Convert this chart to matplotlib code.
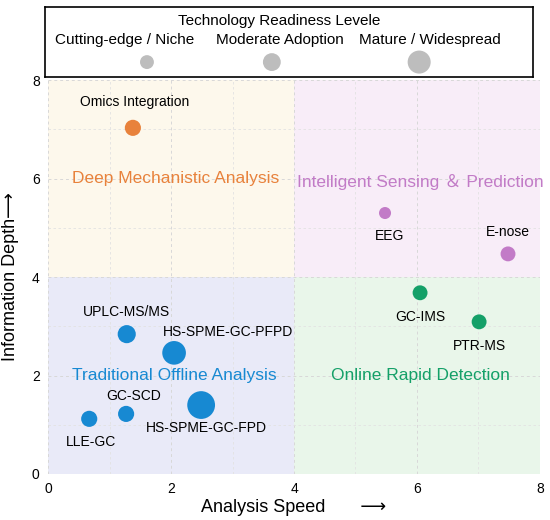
import matplotlib.pyplot as plt
import numpy as np

plt.rcParams['font.family'] = ['Liberation Sans', 'DejaVu Sans', 'Noto Sans CJK SC']

# techniques: speed, depth, size class (0 niche, 1 moderate, 2 mature)
names = ['Omics Integration', 'EEG', 'E-nose', 'GC-IMS', 'PTR-MS',
         'UPLC-MS/MS', 'HS-SPME-GC-PFPD', 'HS-SPME-GC-FPD', 'GC-SCD', 'LLE-GC']
speed = [1.38, 5.48, 7.48, 6.05, 7.01, 1.28, 2.05, 2.49, 1.27, 0.67]
depth = [7.03, 5.30, 4.47, 3.68, 3.09, 2.84, 2.46, 1.40, 1.22, 1.12]
sizes = [135, 75, 115, 115, 115, 170, 290, 400, 135, 135]
groups = ['deep', 'intel', 'intel', 'online', 'online',
          'trad', 'trad', 'trad', 'trad', 'trad']

lab_x = [1.41, 5.56, 7.48, 6.05, 7.02, 1.28, 2.93, 2.57, 1.40, 0.70]
lab_y = [7.55, 4.83, 4.91, 3.19, 2.60, 3.29, 2.88, 0.93, 1.58, 0.65]

colors = {'deep': '#E8823C', 'intel': '#C27BC7', 'online': '#14A068', 'trad': '#1789D2'}
bgs = {'deep': '#FDF8EC', 'intel': '#F8EDF8', 'online': '#E9F6EA', 'trad': '#E9EAF8'}

quad_names = ['Deep Mechanistic Analysis', 'Intelligent Sensing ＆ Prediction',
              'Traditional Offline Analysis', 'Online Rapid Detection']
quad_keys = ['deep', 'intel', 'trad', 'online']
quad_x = [2.07, 6.05, 2.05, 6.05]
quad_y = [6.0, 5.93, 1.99, 2.0]
quad_rect = [(0, 4), (4, 4), (0, 0), (4, 0)]

legend_labels = ['Cutting-edge / Niche', 'Moderate Adoption', 'Mature / Widespread']
legend_sizes = [100, 165, 275]

fig = plt.figure(figsize=(5.5, 5.2), dpi=100)
ax = fig.add_axes([0.0873, 0.0885, 0.8945, 0.7575])

for k, (rx, ry) in zip(quad_keys, quad_rect):
    ax.add_patch(plt.Rectangle((rx, ry), 4, 4, facecolor=bgs[k], edgecolor='none', zorder=0))

ax.set_xlim(0, 8)
ax.set_ylim(0, 8)
ax.set_xticks([0, 2, 4, 6, 8])
ax.set_yticks([0, 2, 4, 6, 8])
ax.set_xticks(np.arange(0, 9, 1), minor=True)
ax.set_yticks(np.arange(0, 9, 1), minor=True)
ax.grid(True, which='major', linestyle=(0, (3, 3)), color='#d8d8d8', linewidth=0.7, zorder=1)
ax.grid(True, which='minor', linestyle=(0, (3, 3)), color='#e2e2e2', linewidth=0.6, zorder=1)
ax.set_axisbelow(False)
for s in ax.spines.values():
    s.set_visible(False)
ax.tick_params(which='both', length=0, labelsize=10, pad=6)

for i in range(len(names)):
    ax.scatter(speed[i], depth[i], s=sizes[i], color=colors[groups[i]], edgecolors='none', zorder=3)
    ax.text(lab_x[i], lab_y[i], names[i], ha='center', va='center', fontsize=10, zorder=4)

for i in range(4):
    ax.text(quad_x[i], quad_y[i], quad_names[i], ha='center', va='center', fontsize=12.5,
            color=colors[quad_keys[i]], zorder=4)

ax.set_xlabel('Analysis Speed       ⟶', fontsize=13, labelpad=2)
ax.set_ylabel('Information Depth⟶', fontsize=13, labelpad=9)

# legend box on top
lax = fig.add_axes([0.0818, 0.851, 0.887, 0.1346])
lax.set_xlim(0, 1)
lax.set_ylim(0, 1)
lax.set_xticks([])
lax.set_yticks([])
for s in lax.spines.values():
    s.set_linewidth(1.2)
    s.set_color('black')
lax.text(0.48, 0.80, 'Technology Readiness Levele', ha='center', va='center', fontsize=11)
leg_lx = [0.164, 0.481, 0.789]
leg_mx = [0.209, 0.465, 0.767]
for i in range(3):
    lax.text(leg_lx[i], 0.53, legend_labels[i], ha='center', va='center', fontsize=11)
    lax.scatter(leg_mx[i], 0.22, s=legend_sizes[i], color='#bdbdbd', edgecolors='none')

fig.savefig('out.png', dpi=100)
